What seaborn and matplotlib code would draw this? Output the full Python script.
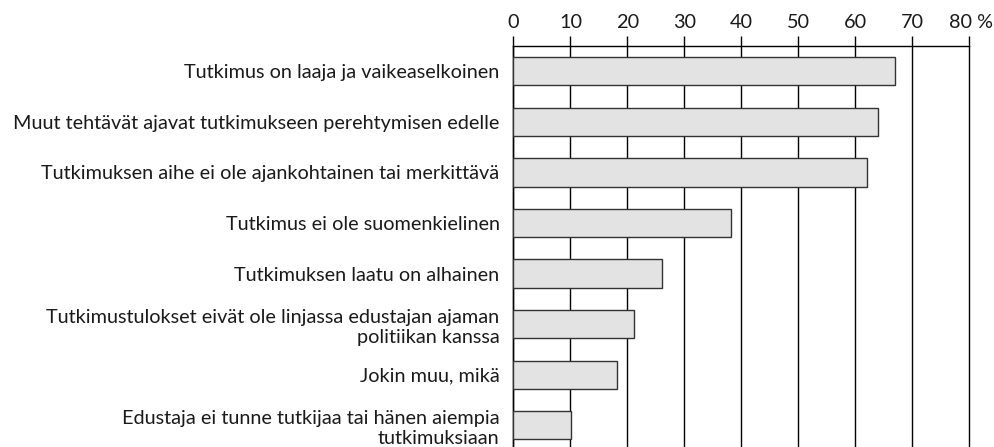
import matplotlib
matplotlib.use('Agg')
import matplotlib.pyplot as plt
import matplotlib.transforms as mtransforms
import seaborn as sns
import pandas as pd
import numpy as np

# Reasons (top to bottom) and share of respondents (%)
reasons = [
    'Tutkimus on laaja ja vaikeaselkoinen',
    'Muut tehtävät ajavat tutkimukseen perehtymisen edelle',
    'Tutkimuksen aihe ei ole ajankohtainen tai merkittävä',
    'Tutkimus ei ole suomenkielinen',
    'Tutkimuksen laatu on alhainen',
    'Tutkimustulokset eivät ole linjassa edustajan ajaman\npolitiikan kanssa',
    'Jokin muu, mikä',
    'Edustaja ei tunne tutkijaa tai hänen aiempia\ntutkimuksiaan',
]
shares = [67.0, 64.0, 62.0, 38.1, 26.1, 21.1, 18.1, 10.1]
x_ticks = [0, 10, 20, 30, 40, 50, 60, 70, 80]
x_labels = ['0', '10', '20', '30', '40', '50', '60', '70', '80 %']

df = pd.DataFrame({'reason': reasons, 'share': shares})

sns.set_style('white')
plt.rcParams['font.family'] = ['Lato', 'DejaVu Sans']
txt_color = '#1a1a1a'
fsize = 14.3

fig = plt.figure(figsize=(9.94, 4.47), dpi=100)
ax = fig.add_axes([0.5165, -0.008, 0.4587, 0.905])

sns.barplot(data=df, y='reason', x='share', orient='h', ax=ax,
            color='#e2e3e2', edgecolor='#333333', linewidth=1.0,
            width=0.56, saturation=1, zorder=3)

ax.set_xlim(0, 80)
ax.set_ylim(len(reasons) - 0.5, -0.5)
ax.set_xlabel('')
ax.set_ylabel('')

# vertical grid lines behind the bars
for v in x_ticks:
    ax.axvline(v, color='black', linewidth=1.0, zorder=1, clip_on=False)

# x axis on top
ax.xaxis.tick_top()
ax.set_xticks(x_ticks)
ax.set_xticklabels(x_labels)
ax.tick_params(axis='x', which='major', direction='out', length=7, width=1,
               color='black', labelsize=fsize, labelcolor=txt_color, pad=4)
last = ax.get_xticklabels()[-1]
last.set_transform(last.get_transform() +
                   mtransforms.ScaledTranslation(0.02, 0, fig.dpi_scale_trans))

# y labels, ticks between categories
ax.set_yticks(np.arange(len(reasons)))
ax.set_yticklabels(reasons, ha='right', linespacing=1.25)
ax.set_yticks(np.arange(len(reasons) + 1) - 0.5, minor=True)
ax.tick_params(axis='y', which='major', length=0, labelsize=fsize,
               labelcolor=txt_color, pad=10)
ax.tick_params(axis='y', which='minor', length=4, width=1, color='black',
               direction='out')

for side in ['right', 'bottom']:
    ax.spines[side].set_visible(False)
for side in ['top', 'left']:
    ax.spines[side].set_color('black')
    ax.spines[side].set_linewidth(1.0)

fig.savefig('out.png', dpi=100)
